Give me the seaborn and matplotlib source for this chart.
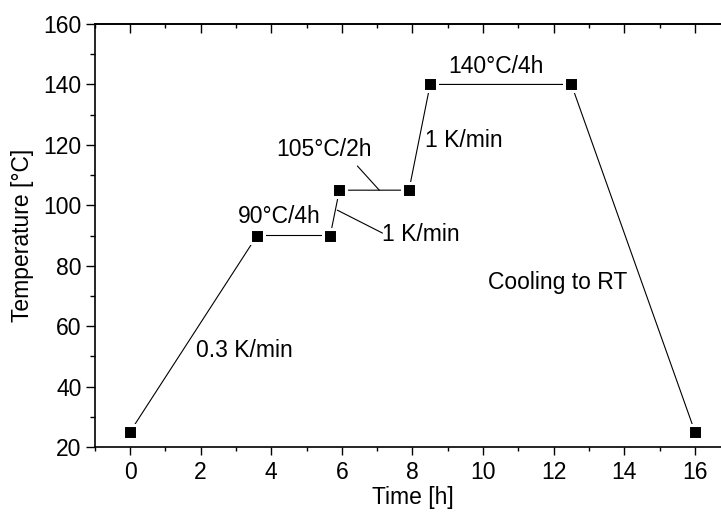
import matplotlib
matplotlib.use("Agg")
import matplotlib.pyplot as plt
import seaborn as sns
import pandas as pd
from matplotlib.ticker import MultipleLocator

# ---- data ----
time_h = [0, 3.6, 5.67, 5.93, 7.9, 8.5, 12.5, 16]
temp_c = [25, 90, 90, 105, 105, 140, 140, 25]

labels = ["0.3 K/min", "90°C/4h", "105°C/2h", "1 K/min", "1 K/min", "140°C/4h", "Cooling to RT"]
label_x = [3.23, 4.23, 5.50, 8.24, 9.46, 10.37, 12.11]
label_y = [49.9, 94.2, 116.3, 88.3, 119.4, 143.7, 72.2]

# leader lines: (start x, start y, end x, end y)
leader_from_x = [6.44, 5.87]
leader_from_y = [113.0, 98.4]
leader_to_x = [7.06, 7.15]
leader_to_y = [105.0, 90.8]

x_ticks = list(range(0, 17, 2))
y_ticks = list(range(20, 161, 20))

sns.set_style("ticks")
plt.rcParams["font.family"] = ["Liberation Sans", "DejaVu Sans"]
plt.rcParams["font.size"] = 16.5
plt.rcParams["text.color"] = "black"
plt.rcParams["axes.labelcolor"] = "black"
plt.rcParams["xtick.color"] = "black"
plt.rcParams["ytick.color"] = "black"
plt.rcParams["axes.edgecolor"] = "black"

fig = plt.figure(figsize=(7.21, 5.14), dpi=100)
ax = fig.add_axes([94.7 / 721, 1 - 447 / 514, 18 * 35.31 / 721, (447 - 24) / 514])

df = pd.DataFrame({"Time [h]": time_h, "Temperature [°C]": temp_c})
sns.lineplot(data=df, x="Time [h]", y="Temperature [°C]", sort=False, estimator=None,
             color="black", lw=0.8, marker="s", markersize=9.4,
             markerfacecolor="black", markeredgecolor="white", markeredgewidth=2.2,
             ax=ax, zorder=3)

for t, x, y in zip(labels, label_x, label_y):
    ax.text(x, y, t, ha="center", va="baseline", fontsize=16.5, color="black")

for x0, y0, x1, y1 in zip(leader_from_x, leader_from_y, leader_to_x, leader_to_y):
    ax.annotate("", xy=(x1, y1), xytext=(x0, y0),
                arrowprops=dict(arrowstyle="-", color="black", lw=0.8,
                                shrinkA=0, shrinkB=0))

ax.set_xlim(-1, 17)
ax.set_ylim(20, 160)
ax.set_xticks(x_ticks)
ax.set_yticks(y_ticks)
ax.xaxis.set_minor_locator(MultipleLocator(1))
ax.yaxis.set_minor_locator(MultipleLocator(10))

for s in ["left", "bottom", "top"]:
    ax.spines[s].set_linewidth(1.2)
    ax.spines[s].set_color("black")
ax.spines["right"].set_visible(False)

ax.tick_params(axis="x", which="major", direction="out", length=5.8, width=1.0,
               labelsize=16.5, pad=4, colors="black")
ax.tick_params(axis="x", which="minor", direction="out", length=3, width=1.0, colors="black")
ax.tick_params(axis="y", which="major", direction="out", length=6.5, width=1.0,
               labelsize=16.5, pad=3, colors="black")
ax.tick_params(axis="y", which="minor", direction="out", length=3.6, width=1.0, colors="black")

top = ax.secondary_xaxis("top")
top.set_xticks(x_ticks)
top.xaxis.set_minor_locator(MultipleLocator(1))
top.set_xticklabels([])
top.tick_params(which="major", direction="in", length=6.5, width=1.0, colors="black")
top.tick_params(which="minor", direction="in", length=3.2, width=1.0, colors="black")
top.spines["top"].set_linewidth(1.2)
top.spines["top"].set_color("black")

ax.set_xlabel("Time [h]", fontsize=16.5, labelpad=2, color="black")
ax.set_ylabel("Temperature [°C]", fontsize=16.5, labelpad=7, color="black")

fig.savefig("out.png", dpi=100)
